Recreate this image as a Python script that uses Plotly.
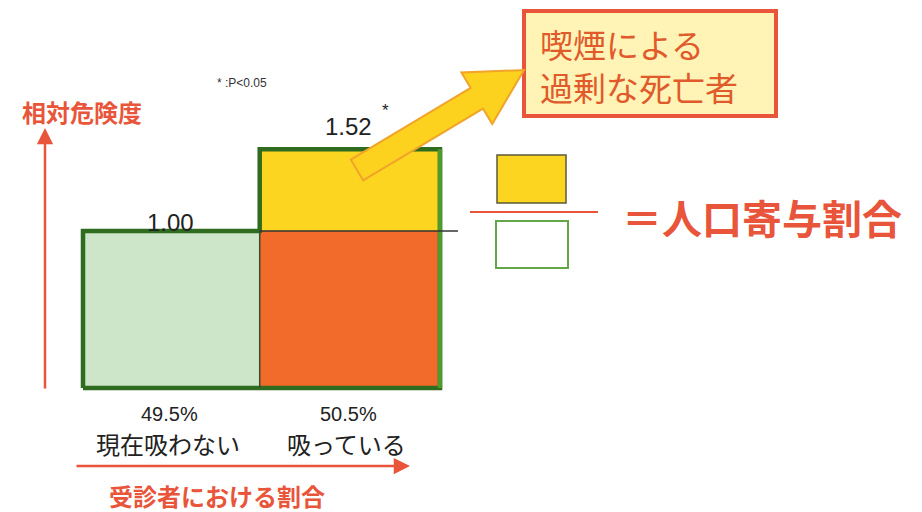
import plotly.graph_objects as go
import math

# ---- data ----
categories = ["現在吸わない", "吸っている"]
shares = [49.5, 50.5]            # 受診者における割合 (%)
relative_risk = [1.00, 1.52]     # 相対危険度
rr_labels = ["1.00", "1.52"]
share_labels = ["49.5%", "50.5%"]

WIN_W, WIN_H = 922, 512
OFF = 8                           # page body margin
W, H = WIN_W - OFF, WIN_H - OFF

# target-pixel (window) <-> data mapping
X0_PX, X_SCALE = 83.0, 3.57      # window px of x=0, px per %
Y0_PX, Y_SCALE = 388.0, 157.0    # window px of y=0, px per unit RR
xmin = -(X0_PX - OFF) / X_SCALE
xmax = (WIN_W - X0_PX) / X_SCALE
ymax = (Y0_PX - OFF) / Y_SCALE
ymin = -(WIN_H - Y0_PX) / Y_SCALE


def py(ypx):
    return (Y0_PX - ypx) / Y_SCALE


def px(xpx):
    return (xpx - X0_PX) / X_SCALE


def paper(xp, yp):
    return (xp - OFF) / W, 1 - (yp - OFF) / H


RED = "#e8553a"
TXT = "#222222"
JP = "Noto Sans CJK JP"
NUM = "Liberation Sans"

lefts = [0, shares[0]]
centers = [lefts[i] + shares[i] / 2 for i in range(2)]

fig = go.Figure()
fig.add_trace(go.Bar(x=[centers[0]], y=[relative_risk[0]], width=[shares[0]], base=[0],
                     marker=dict(color="#cde5c9", line=dict(width=0)), showlegend=False))
fig.add_trace(go.Bar(x=[centers[1]], y=[relative_risk[0]], width=[shares[1]], base=[0],
                     marker=dict(color="#f26b2b", line=dict(width=0)), showlegend=False))
fig.add_trace(go.Bar(x=[centers[1]], y=[relative_risk[1] - relative_risk[0]], width=[shares[1]],
                     base=[relative_risk[0]],
                     marker=dict(color="#fcd521", line=dict(width=0)), showlegend=False))

ox = [0, 0, lefts[1], lefts[1], lefts[1] + shares[1], lefts[1] + shares[1], 0]
oy = [0, relative_risk[0], relative_risk[0], relative_risk[1], relative_risk[1], 0, 0]
fig.add_trace(go.Scatter(x=ox, y=oy, mode="lines", line=dict(color="#2f6c1f", width=4.5),
                         showlegend=False, hoverinfo="skip"))
fig.add_trace(go.Scatter(x=[lefts[1] + shares[1]] * 2, y=[relative_risk[1], 0], mode="lines",
                         line=dict(color="#4f9a2c", width=4.5), showlegend=False, hoverinfo="skip"))
fig.add_trace(go.Scatter(x=[lefts[1], lefts[1]], y=[0, relative_risk[0]], mode="lines",
                         line=dict(color="#3a4a2a", width=1.5), showlegend=False, hoverinfo="skip"))
fig.add_trace(go.Scatter(x=[lefts[1], px(458)], y=[relative_risk[0]] * 2, mode="lines",
                         line=dict(color="#333333", width=1.5), showlegend=False, hoverinfo="skip"))

ann = []
ann.append(dict(x=px(170), y=py(222), text=rr_labels[0], showarrow=False,
                font=dict(size=24, color=TXT, family=NUM)))
ann.append(dict(x=px(348), y=py(126), text=rr_labels[1], showarrow=False,
                font=dict(size=24, color=TXT, family=NUM)))
ann.append(dict(x=px(385), y=py(110), text="*", showarrow=False,
                font=dict(size=17, color=TXT, family=NUM)))
for i in range(2):
    ann.append(dict(x=centers[i] - 0.5, y=py(414), text=share_labels[i], showarrow=False,
                    font=dict(size=20, color=TXT, family=NUM)))
    ann.append(dict(x=centers[i] - 1.0, y=py(443), text=categories[i], showarrow=False,
                    font=dict(size=24, color=TXT, family=JP)))

ann.append(dict(x=px(242), y=py(83), text="* :P<0.05", showarrow=False,
                font=dict(size=12, color="#333", family=NUM)))
ann.append(dict(x=px(82), y=py(111), text="<b>相対危険度</b>", showarrow=False,
                font=dict(size=24, color=RED, family=JP)))
ann.append(dict(x=px(217), y=py(495), text="<b>受診者における割合</b>", showarrow=False,
                font=dict(size=24, color=RED, family=JP)))
ann.append(dict(x=px(45), y=py(128), ax=px(45), ay=py(390), axref="x", ayref="y",
                text="", showarrow=True, arrowhead=2, arrowsize=1.3, arrowwidth=2.5, arrowcolor=RED))
ann.append(dict(x=px(410), y=py(466), ax=px(75), ay=py(466), axref="x", ayref="y",
                text="", showarrow=True, arrowhead=2, arrowsize=1.3, arrowwidth=2.5, arrowcolor=RED))
ann.append(dict(x=px(538), y=py(68), text="喫煙による<br>過剰な死亡者", showarrow=False,
                xanchor="left", align="left",
                font=dict(size=33, color="#e05a2b", family="Liberation Sans, Noto Sans CJK JP")))
ann.append(dict(x=px(620), y=py(217), text="<b>＝人口寄与割合</b>", showarrow=False, xanchor="left",
                font=dict(size=40, color=RED, family=JP)))

shapes = []


def rect_px(x0, y0, x1, y1, **kw):
    a0, b0 = paper(x0, y0)
    a1, b1 = paper(x1, y1)
    shapes.append(dict(type="rect", xref="paper", yref="paper", x0=a0, y0=b1, x1=a1, y1=b0, **kw))


rect_px(524, 11, 776, 116, fillcolor="#fff3b5", line=dict(color="#e8553a", width=4))
rect_px(497, 155, 566, 203, fillcolor="#fcd521", line=dict(color="#5a5a3a", width=1.5))
rect_px(496, 221, 568, 268, fillcolor="white", line=dict(color="#63a648", width=2))
a0, b0 = paper(470, 212)
a1, b1 = paper(598, 212)
shapes.append(dict(type="line", xref="paper", yref="paper", x0=a0, y0=b0, x1=a1, y1=b1,
                   line=dict(color=RED, width=2)))

tail = (357.0, 170.0)
tip = (524.0, 70.0)
dx, dy = tip[0] - tail[0], tip[1] - tail[1]
L = math.hypot(dx, dy)
ux, uy = dx / L, dy / L
nx, ny = -uy, ux
sw, hw, hl = 12.0, 30.0, 55.0
bx, by = tip[0] - ux * hl, tip[1] - uy * hl
pts = [
    (tail[0] + nx * sw, tail[1] + ny * sw),
    (bx + nx * sw, by + ny * sw),
    (bx + nx * hw, by + ny * hw),
    tip,
    (bx - nx * hw, by - ny * hw),
    (bx - nx * sw, by - ny * sw),
    (tail[0] - nx * sw, tail[1] - ny * sw),
]
path = "M " + " L ".join(f"{paper(x, y)[0]:.5f},{paper(x, y)[1]:.5f}" for x, y in pts) + " Z"
shapes.append(dict(type="path", xref="paper", yref="paper", path=path, fillcolor="#fcd21e",
                   line=dict(color="#f0a42a", width=2), layer="above"))

fig.update_layout(
    width=W, height=H, autosize=False,
    margin=dict(l=0, r=0, t=0, b=0),
    paper_bgcolor="white", plot_bgcolor="white",
    barmode="overlay", bargap=0,
    xaxis=dict(range=[xmin, xmax], visible=False, fixedrange=True),
    yaxis=dict(range=[ymin, ymax], visible=False, fixedrange=True),
    annotations=ann, shapes=shapes,
    showlegend=False,
)
fig.write_html("out.html", config={"displayModeBar": False})
